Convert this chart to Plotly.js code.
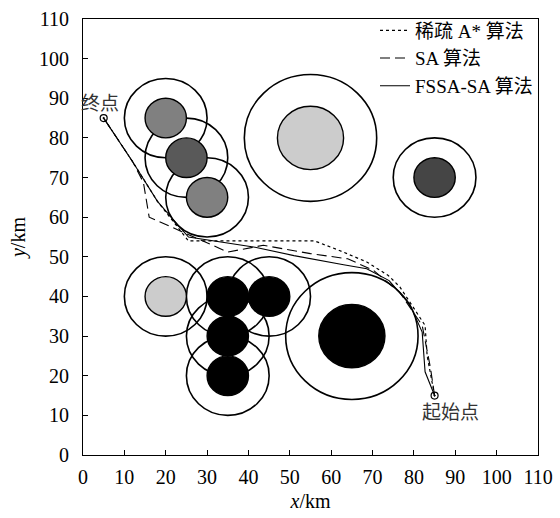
<!DOCTYPE html>
<html>
<head>
<meta charset="utf-8">
<script src="https://cdn.plot.ly/plotly-3.0.1.min.js"></script>
<style>body{margin:0;background:#fff;} #chart{width:560px;height:518px;}</style>
</head>
<body>
<div id="chart"></div>
<script>
// Obstacles: centre, threat radius (outer ring), body radius (filled), fill colour
const obsX = [20, 25, 30, 55, 85, 20, 35, 45, 35, 35, 65];
const obsY = [85, 75, 65, 80, 70, 40, 40, 40, 30, 20, 30];
const outerR = [10, 10, 10, 16, 10, 10, 10, 10, 10, 10, 16];
const innerR = [5, 5, 5, 8, 5, 5, 5, 5, 5, 5, 8];
const innerFill = ['#808080', '#595959', '#808080', '#cccccc', '#454545', '#cccccc', '#000000', '#000000', '#000000', '#000000', '#000000'];

// Paths (start -> end)
const astarX = [85, 83.2, 82.7, 76.6, 73.8, 68.6, 62, 56, 25.5, 18, 12, 5];
const astarY = [15, 25, 32.7, 42.4, 45.3, 48.7, 51.6, 54, 54, 64, 74, 85];
const saX = [85, 84, 82, 76.6, 70.2, 64, 55, 43.6, 35, 16, 14.6, 12, 5];
const saY = [15, 22, 32.7, 41, 46.6, 49.5, 50.8, 52.9, 51.2, 60, 68.8, 74, 85];
const fssaX = [85, 82.7, 82, 79, 74, 68.6, 63, 51, 41.6, 25.5, 18, 12, 5];
const fssaY = [15, 21, 31, 38, 44, 47, 48, 50.3, 52.4, 55, 64, 74, 85];

const endX = [85, 5];
const endY = [15, 85];
const endLabels = ['起始点', '终点'];

const seriesNames = ['稀疏 A* 算法', 'SA 算法', 'FSSA-SA 算法'];
const xTicks = [0, 10, 20, 30, 40, 50, 60, 70, 80, 90, 100, 110];
const yTicks = [0, 10, 20, 30, 40, 50, 60, 70, 80, 90, 100, 110];

const serif = '"Liberation Serif", "Times New Roman", "Noto Sans CJK SC", serif';

const shapes = [];
for (let i = 0; i < obsX.length; i++) {
  shapes.push({type: 'circle', xref: 'x', yref: 'y', layer: 'below',
    x0: obsX[i] - outerR[i], x1: obsX[i] + outerR[i],
    y0: obsY[i] - outerR[i], y1: obsY[i] + outerR[i],
    line: {color: '#000', width: 1.6}, fillcolor: 'rgba(0,0,0,0)'});
}
for (let i = 0; i < obsX.length; i++) {
  shapes.push({type: 'circle', xref: 'x', yref: 'y', layer: 'below',
    x0: obsX[i] - innerR[i], x1: obsX[i] + innerR[i],
    y0: obsY[i] - innerR[i], y1: obsY[i] + innerR[i],
    line: {color: '#000', width: 1.4}, fillcolor: innerFill[i]});
}

const traces = [
  {x: astarX, y: astarY, mode: 'lines', name: seriesNames[0], line: {color: '#000', width: 1.2, dash: 'dot'}},
  {x: saX, y: saY, mode: 'lines', name: seriesNames[1], line: {color: '#000', width: 1.1, dash: '10px,5px'}},
  {x: fssaX, y: fssaY, mode: 'lines', name: seriesNames[2], line: {color: '#000', width: 1.1}},
  {x: endX, y: endY, mode: 'markers', showlegend: false, hoverinfo: 'skip',
   marker: {symbol: 'circle-open-dot', size: 7, color: '#000', line: {width: 1.2, color: '#000'}}}
];

const layout = {
  width: 560, height: 518,
  margin: {l: 83, r: 22, t: 18, b: 63},
  paper_bgcolor: '#fff', plot_bgcolor: '#fff',
  font: {family: serif, color: '#000', size: 20},
  showlegend: true,
  legend: {x: 1, xanchor: 'right', y: 1.015, yanchor: 'top', bgcolor: 'rgba(0,0,0,0)',
    font: {family: serif, size: 19, color: '#000'}, tracegroupgap: 0, itemwidth: 30},
  xaxis: {range: [0, 110], tickvals: xTicks, ticktext: xTicks.map(String),
    ticks: 'inside', ticklen: 5, tickwidth: 1, tickcolor: '#000',
    showline: true, linecolor: '#000', linewidth: 1, mirror: true,
    showgrid: false, zeroline: false, fixedrange: true, ticklabelstandoff: 4,
    tickfont: {family: serif, size: 20},
    title: {text: '<i>x</i>/km', font: {family: serif, size: 20}, standoff: 6}},
  yaxis: {range: [0, 110], tickvals: yTicks, ticktext: yTicks.map(String),
    ticks: 'inside', ticklen: 5, tickwidth: 1, tickcolor: '#000',
    showline: true, linecolor: '#000', linewidth: 1, mirror: true,
    showgrid: false, zeroline: false, fixedrange: true, ticklabelstandoff: 9,
    tickfont: {family: serif, size: 20},
    title: {text: '<i>y</i>/km', font: {family: serif, size: 20}, standoff: 8}},
  shapes: shapes,
  annotations: [
    {x: endX[0], y: endY[0], xref: 'x', yref: 'y', text: endLabels[0], showarrow: false,
     xanchor: 'left', yanchor: 'top', xshift: -15, yshift: 1,
     font: {family: '"Noto Sans CJK SC", sans-serif', size: 19, color: '#333'}},
    {x: endX[1], y: endY[1], xref: 'x', yref: 'y', text: endLabels[1], showarrow: false,
     xanchor: 'center', yanchor: 'bottom', xshift: -4, yshift: 1,
     font: {family: '"Noto Sans CJK SC", sans-serif', size: 19, color: '#333'}}
  ]
};

Plotly.newPlot('chart', traces, layout, {staticPlot: true, displayModeBar: false});
</script>
</body>
</html>
